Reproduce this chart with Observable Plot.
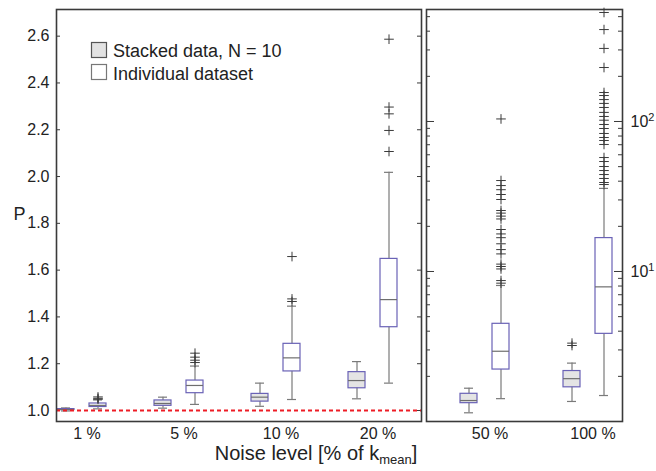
<!DOCTYPE html>
<html><head><meta charset="utf-8">
<script src="https://cdn.jsdelivr.net/npm/d3@7"></script>
<script src="https://cdn.jsdelivr.net/npm/@observablehq/plot@0.6"></script>
<style>
body{margin:0;background:#fff;}
#wrap{position:relative;width:656px;height:471px;overflow:hidden;background:#fff;font-family:"Liberation Sans",Arial,sans-serif;}
#wrap svg{position:absolute;top:0;}
</style></head><body><div id="wrap"></div>
<script>
// ---- data ----
const levelsLin = ["1 %", "5 %", "10 %", "20 %"];
const levelsLog = ["50 %", "100 %"];
const levels = [...levelsLin, ...levelsLog];

// stacked data, N = 10 (per level: 1,5,10,20,50,100 %)
const stackedLo  = [0.998, 1.010, 1.018, 1.050, 1.143, 1.36];
const stackedQ1  = [1.002, 1.020, 1.038, 1.095, 1.325, 1.69];
const stackedMed = [1.004, 1.030, 1.057, 1.128, 1.380, 1.93];
const stackedQ3  = [1.006, 1.043, 1.071, 1.164, 1.530, 2.17];
const stackedHi  = [1.011, 1.057, 1.117, 1.209, 1.667, 2.45];
const stackedOut = [[], [], [], [], [], [3.21, 3.33]];

// individual dataset
const indivLo  = [1.007, 1.026, 1.047, 1.117, 1.42, 1.49];
const indivQ1  = [1.015, 1.074, 1.167, 1.356, 2.22, 3.84];
const indivMed = [1.022, 1.107, 1.225, 1.474, 2.94, 7.9];
const indivQ3  = [1.030, 1.128, 1.285, 1.648, 4.48, 16.7];
const indivHi  = [1.045, 1.190, 1.446, 2.018, 8.07, 35.8];
const indivOut = [
  [1.048, 1.052, 1.058],
  [1.205, 1.215, 1.228, 1.245],
  [1.466, 1.477, 1.658],
  [2.107, 2.197, 2.268, 2.297, 2.587],
  [8.36, 8.7, 10.4, 10.8, 11.2, 13.1, 14.0, 15.3, 16.8, 17.8, 19.05, 22.4, 23.4, 24.5, 25.5, 30.2, 32.6, 35.1, 37.4, 40.4, 104],
  [38, 39.2, 41.7, 44.3, 47.1, 50.1, 54.1, 57.5, 70.3, 74.7, 78.2, 83.2, 89.8, 95.5, 102, 108, 115, 124, 132, 140, 149, 156, 229, 307, 410, 533]
];

const linTicks = [1.0, 1.2, 1.4, 1.6, 1.8, 2.0, 2.2, 2.4, 2.6];
const logMajor = [10, 100];
const logMinor = [2,3,4,5,6,7,8,9,20,30,40,50,60,70,80,90,200,300,400,500];
const logExp = {10: "1", 100: "2"};

// ---- tables ----
const stats = [];
const outs = [];
levels.forEach((lv, i) => {
  stats.push({level: lv, series: "stacked", lo: stackedLo[i], q1: stackedQ1[i], med: stackedMed[i], q3: stackedQ3[i], hi: stackedHi[i]});
  stats.push({level: lv, series: "individual", lo: indivLo[i], q1: indivQ1[i], med: indivMed[i], q3: indivQ3[i], hi: indivHi[i]});
  stackedOut[i].forEach(v => outs.push({level: lv, series: "stacked", v}));
  indivOut[i].forEach(v => outs.push({level: lv, series: "individual", v}));
});

const PURPLE = "#6a62b6";
const WHISK = "#7a7a7a";
const FRAME = "#3a3a3a";

function boxMarks(levelSet) {
  const marks = [];
  for (const s of ["stacked", "individual"]) {
    const dx = s === "stacked" ? -16 : 16;
    const st = stats.filter(d => d.series === s && levelSet.includes(d.level));
    const ou = outs.filter(d => d.series === s && levelSet.includes(d.level));
    marks.push(
      Plot.ruleX(st, {x: "level", y1: "lo", y2: "hi", dx, stroke: WHISK, strokeWidth: 1.2}),
      Plot.tickY(st, {x: "level", y: "lo", dx, insetLeft: 20, insetRight: 20, stroke: WHISK, strokeWidth: 1.2}),
      Plot.tickY(st, {x: "level", y: "hi", dx, insetLeft: 20, insetRight: 20, stroke: WHISK, strokeWidth: 1.2}),
      Plot.barY(st, {x: "level", y1: "q1", y2: "q3", dx, insetLeft: 16, insetRight: 16,
        fill: s === "stacked" ? "#e4e4e4" : "#ffffff", stroke: PURPLE, strokeWidth: 1.2}),
      Plot.tickY(st, {x: "level", y: "med", dx, insetLeft: 16, insetRight: 16, stroke: "#6e6e6e", strokeWidth: 1.2}),
      Plot.dot(ou, {x: "level", y: "v", dx, symbol: "plus", r: 3.2, stroke: "#3a3a3a", strokeWidth: 1})
    );
  }
  return marks;
}

const fontStyle = {fontFamily: "'Liberation Sans', Arial, sans-serif", fontSize: "16px", background: "transparent", overflow: "visible"};

// ---- left (linear) panel ----
const W1 = 424, ML1 = 56, MR1 = 3;
const pw1 = W1 - ML1 - MR1;
const left = Plot.plot({
  width: W1, height: 471,
  marginLeft: ML1, marginRight: MR1, marginTop: 9, marginBottom: 50,
  style: fontStyle,
  x: {type: "band", domain: levelsLin, paddingInner: 0.496, paddingOuter: 0.124, align: 0.02, label: null},
  y: {domain: [0.953, 2.714], label: null},
  marks: [
    Plot.ruleY(linTicks, {insetRight: pw1 - 4, stroke: FRAME, strokeWidth: 1}),
    Plot.ruleY(linTicks, {insetLeft: pw1 - 4, stroke: FRAME, strokeWidth: 1}),
    Plot.axisY({ticks: linTicks, tickSize: 0, tickPadding: 7, tickFormat: d3.format(".1f"), fontSize: 16, label: null, fill: "#222"}),
    Plot.axisX({tickSize: 0, tickPadding: 6, dx: 5, fontSize: 16, label: null, fill: "#222"}),
    ...boxMarks(levelsLin),
    Plot.ruleY([1], {stroke: "#ee1c25", strokeWidth: 1.8, strokeDasharray: "4,3"}),
    Plot.text(["P"], {frameAnchor: "left", dx: -43, dy: -1, fontSize: 18, fill: "#222"}),
    Plot.frame({stroke: FRAME, strokeWidth: 1.6})
  ]
});
left.style.left = "0px";

// ---- right (log) panel ----
const W2 = 256, ML2 = 26, MR2 = 34;
const pw2 = W2 - ML2 - MR2;
const right = Plot.plot({
  width: W2, height: 471,
  marginLeft: ML2, marginRight: MR2, marginTop: 9, marginBottom: 50,
  style: fontStyle,
  x: {type: "band", domain: levelsLog, paddingInner: 0.529, paddingOuter: 0.207, align: 0.756, label: null},
  y: {type: "log", domain: [1, 558], label: null},
  marks: [
    Plot.ruleY(logMinor, {insetRight: pw2 - 4, stroke: FRAME, strokeWidth: 1}),
    Plot.ruleY(logMajor, {insetRight: pw2 - 8, stroke: FRAME, strokeWidth: 1}),
    Plot.ruleY(logMinor, {insetLeft: pw2 - 4, stroke: FRAME, strokeWidth: 1}),
    Plot.ruleY(logMajor, {insetLeft: pw2 - 8, stroke: FRAME, strokeWidth: 1}),
    Plot.axisY({anchor: "right", ticks: logMajor, tickSize: 0, tickPadding: 8, tickFormat: d => "10^" + logExp[d], fontSize: 16, label: null, fill: "#222"}),
    Plot.axisX({tickSize: 0, tickPadding: 6, dx: 5, fontSize: 16, label: null, fill: "#222"}),
    ...boxMarks(levelsLog),
    Plot.frame({stroke: FRAME, strokeWidth: 1.6})
  ]
});
right.style.left = "400px";

// turn "10^n" labels into 10 with a superscript exponent
d3.select(right).selectAll("text").each(function () {
  const t = this.textContent;
  const m = /^10\^(\d)$/.exec(t);
  if (!m) return;
  const el = d3.select(this);
  el.text("10");
  el.append("tspan").attr("dy", "-0.55em").attr("font-size", 11).text(m[1]);
});

const wrap = document.getElementById("wrap");
wrap.appendChild(left);
wrap.appendChild(right);

// ---- legend & x label overlay ----
const ov = d3.create("svg").attr("width", 656).attr("height", 471)
  .style("position", "absolute").style("left", "0px").style("top", "0px")
  .style("font-family", "'Liberation Sans', Arial, sans-serif");
const legendItems = [
  {label: "Stacked data, N = 10", fill: "#e2e2e2", stroke: "#555"},
  {label: "Individual dataset", fill: "#ffffff", stroke: "#777"}
];
legendItems.forEach((it, i) => {
  ov.append("rect").attr("x", 91.5).attr("y", 42.5 + i * 22).attr("width", 15).attr("height", 15)
    .attr("fill", it.fill).attr("stroke", it.stroke).attr("stroke-width", 1.2);
  ov.append("text").attr("x", 113).attr("y", 57 + i * 23).attr("font-size", 18).attr("fill", "#222").text(it.label);
});
const xl = ov.append("text").attr("x", 316).attr("y", 460).attr("text-anchor", "middle").attr("font-size", 20).attr("fill", "#222");
xl.append("tspan").text("Noise level [% of k");
xl.append("tspan").attr("font-size", 13).attr("dy", 4).text("mean");
xl.append("tspan").attr("dy", -4).text("]");
wrap.appendChild(ov.node());
</script>
</body></html>
